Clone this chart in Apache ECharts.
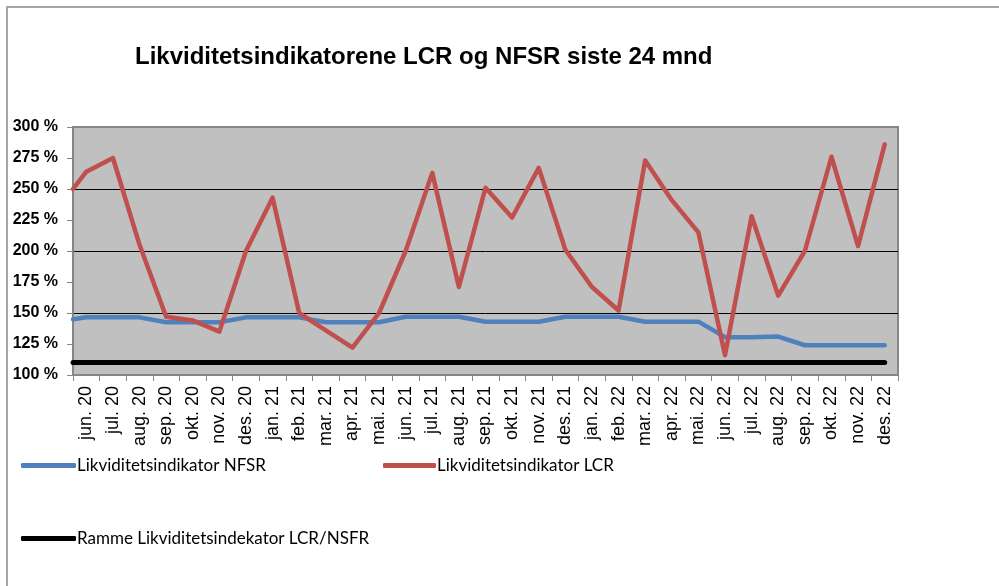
<!DOCTYPE html>
<html>
<head>
<meta charset="utf-8">
<script src="https://cdn.jsdelivr.net/npm/echarts@6/dist/echarts.min.js"></script>
<style>
    html, body { margin: 0; padding: 0; background: #fff; overflow: hidden; }
    #chart { width: 999px; height: 586px; }
    #frame {
        position: absolute; left: 6px; top: 6px; width: 993px; height: 580px;
        border-left: 2px solid #a6a6a6; border-top: 2px solid #a6a6a6;
        box-sizing: border-box; pointer-events: none;
    }
</style>
</head>
<body>
<div id="chart"></div>
<div id="frame"></div>
<script>
var months = ['jun. 20', 'jul. 20', 'aug. 20', 'sep. 20', 'okt. 20', 'nov. 20', 'des. 20',
    'jan. 21', 'feb. 21', 'mar. 21', 'apr. 21', 'mai. 21', 'jun. 21', 'jul. 21', 'aug. 21',
    'sep. 21', 'okt. 21', 'nov. 21', 'des. 21',
    'jan. 22', 'feb. 22', 'mar. 22', 'apr. 22', 'mai. 22', 'jun. 22', 'jul. 22', 'aug. 22',
    'sep. 22', 'okt. 22', 'nov. 22', 'des. 22'];

// percent, one per month
var nsfr = [146.5, 146.5, 146.5, 142.5, 142.5, 142.5, 146.5,
    146.5, 146.5, 142.5, 142.5, 142.5, 147, 147, 147, 143, 143, 143, 147,
    147, 147, 143, 143, 143, 130.5, 130.5, 131, 124, 124, 124, 124];
var lcr = [264, 275, 205, 147, 144, 135, 200,
    243, 150, 136, 122, 150, 200, 263, 171, 251, 227, 267, 201,
    171, 152, 273, 241, 215, 116, 228, 164, 200, 276, 204, 286];
var ramme = [110, 110, 110, 110, 110, 110, 110,
    110, 110, 110, 110, 110, 110, 110, 110, 110, 110, 110, 110,
    110, 110, 110, 110, 110, 110, 110, 110, 110, 110, 110, 110];

// value where each line enters at the left edge of the plot
var edgeNsfr = 145;
var edgeLcr = 250;
var edgeRamme = 110;

var yTicks = [100, 125, 150, 175, 200, 225, 250, 275, 300];

function toPoints(edge, values) {
    var pts = [[0, edge]];
    for (var i = 0; i < values.length; i++) {
        pts.push([i + 0.5, values[i]]);
    }
    return pts;
}

var axisGray = '#868686';
var legendText = {fontFamily: 'Lato', fontSize: 17, color: '#000', padding: [0, 0, 0, -4]};

var option = {
    animation: false,
    title: {
        text: 'Likviditetsindikatorene LCR og NFSR siste 24 mnd',
        left: 135,
        top: 45,
        padding: 0,
        textStyle: {fontFamily: 'Liberation Sans', fontWeight: 'bold', fontSize: 24, color: '#000'}
    },
    legend: [{
        data: ['Likviditetsindikator NFSR'],
        left: 21, top: 457, padding: 0,
        icon: 'roundRect', itemWidth: 55, itemHeight: 5,
        textStyle: legendText
    }, {
        data: ['Likviditetsindikator LCR'],
        left: 383, top: 457, padding: 0,
        icon: 'roundRect', itemWidth: 53, itemHeight: 5,
        textStyle: legendText
    }, {
        data: ['Ramme Likviditetsindekator LCR/NSFR'],
        left: 21, top: 530, padding: 0,
        icon: 'roundRect', itemWidth: 55, itemHeight: 5,
        textStyle: legendText
    }],
    grid: {
        left: 73,
        right: 101,
        top: 127,
        bottom: 211,
        show: true,
        backgroundColor: '#c0c0c0',
        borderColor: axisGray,
        borderWidth: 2
    },
    xAxis: [{
        type: 'category',
        data: months,
        boundaryGap: true,
        axisLine: {lineStyle: {color: axisGray, width: 2}},
        axisTick: {show: true, length: 6, lineStyle: {color: axisGray}},
        axisLabel: {
            interval: 0,
            rotate: 90,
            margin: 11,
            color: '#000',
            fontFamily: 'Liberation Sans',
            fontSize: 18
        },
        splitLine: {show: false}
    }, {
        type: 'value',
        min: 0,
        max: months.length,
        show: false
    }],
    yAxis: [{
        type: 'value',
        min: yTicks[0],
        max: yTicks[yTicks.length - 1],
        interval: 25,
        axisLine: {show: true, lineStyle: {color: axisGray, width: 2}},
        axisTick: {show: true, length: 6, lineStyle: {color: axisGray}},
        axisLabel: {
            formatter: '{value} %',
            margin: 15,
            color: '#000',
            fontFamily: 'Liberation Sans',
            fontWeight: 'bold',
            fontSize: 16
        },
        splitLine: {show: false}
    }, {
        // gridlines only every 50 %
        type: 'value',
        min: yTicks[0],
        max: yTicks[yTicks.length - 1],
        interval: 50,
        position: 'left',
        axisLine: {show: false},
        axisTick: {show: false},
        axisLabel: {show: false},
        splitLine: {
            show: true,
            lineStyle: {color: ['rgba(0,0,0,0)', '#000', '#000', '#000', 'rgba(0,0,0,0)'], width: 1}
        }
    }],
    series: [{
        name: 'Likviditetsindikator NFSR',
        type: 'line',
        xAxisIndex: 1,
        yAxisIndex: 0,
        data: toPoints(edgeNsfr, nsfr),
        symbol: 'none',
        color: '#4f81bd',
        lineStyle: {width: 4.5, cap: 'round', join: 'round'}
    }, {
        name: 'Likviditetsindikator LCR',
        type: 'line',
        xAxisIndex: 1,
        yAxisIndex: 0,
        data: toPoints(edgeLcr, lcr),
        symbol: 'none',
        color: '#c0504d',
        lineStyle: {width: 4.5, cap: 'round', join: 'round'}
    }, {
        name: 'Ramme Likviditetsindekator LCR/NSFR',
        type: 'line',
        xAxisIndex: 1,
        yAxisIndex: 0,
        data: toPoints(edgeRamme, ramme),
        symbol: 'none',
        color: '#000',
        lineStyle: {width: 5, cap: 'round', join: 'round'}
    }]
};

var chart = echarts.init(document.getElementById('chart'));
chart.setOption(option);
</script>
</body>
</html>
